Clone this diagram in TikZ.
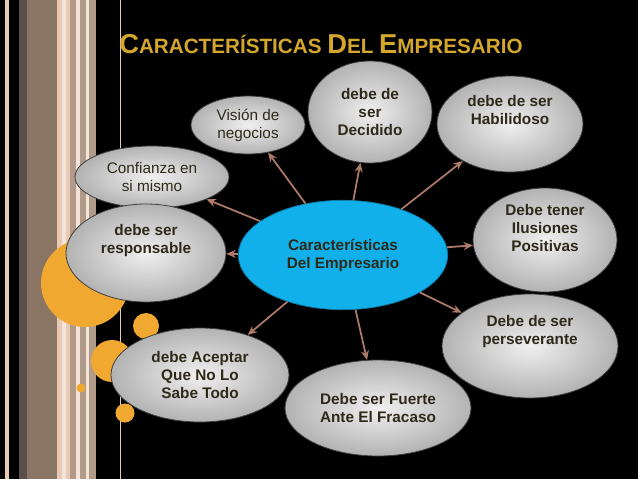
\documentclass[tikz,border=0pt]{standalone}
\usepackage{fontspec}
\setmainfont{Liberation Sans}
\usetikzlibrary{shapes.geometric,arrows.meta}
\definecolor{gold}{HTML}{D4A72C}
\definecolor{orng}{HTML}{F0A830}
\definecolor{arr}{HTML}{B07A68}
\definecolor{blu}{HTML}{12B0EA}
\definecolor{txt}{HTML}{2E2A1A}
\definecolor{peach}{HTML}{E8C9B4}
\definecolor{dgray}{HTML}{5A4F48}
\definecolor{brn}{HTML}{8A7565}
\definecolor{tan}{HTML}{B09A8A}
\definecolor{lite}{HTML}{F4E4D8}
\begin{document}
\begin{tikzpicture}[x=0.75pt,y=-0.75pt,
 bub/.style 2 args={ellipse,draw=black!75,line width=0.6pt,inner color=white!94!black,outer color=black!30,minimum width={0.75pt*#1},minimum height={0.75pt*#2},inner sep=0pt,align=center,text=txt,font=\fontsize{11.5}{13.5}\selectfont\bfseries},
 conn/.style={draw=arr,line width=1.3pt,-{Stealth[length=7pt,width=6pt]}}]
\useasboundingbox (0,0) rectangle (638,479);
\fill[black] (0,0) rectangle (638,479);
% stripes
\fill[peach] (5,0) rectangle (9,479);
\fill[dgray] (19,0) rectangle (27,479);
\fill[brn] (27,0) rectangle (57,479);
\fill[peach] (57,0) rectangle (62,479);
\fill[lite] (62,0) rectangle (66,479);
\fill[peach] (66,0) rectangle (70,479);
\fill[tan] (70,0) rectangle (76,479);
\fill[lite] (76,0) rectangle (80,479);
\fill[tan] (80,0) rectangle (86,479);
\fill[lite] (86,0) rectangle (89,479);
\fill[tan] (89,0) rectangle (96,479);
\fill[peach] (119.5,0) rectangle (121,479);
% orange circles
\fill[orng] (85,283) circle (44);
\fill[orng] (146,326) circle (13);
\fill[orng] (112,361) circle (21);
\fill[orng] (81,388) circle (4.5);
\fill[orng] (125,413) circle (9.5);
% title
\node[anchor=base west,text=gold,font=\bfseries,inner sep=0] (title) at (119,53)
 {\fontsize{20.5}{22}\selectfont C\fontsize{15.5}{17}\selectfont ARACTERÍSTICAS \fontsize{20.5}{22}\selectfont D\fontsize{15.5}{17}\selectfont EL \fontsize{20.5}{22}\selectfont E\fontsize{15.5}{17}\selectfont MPRESARIO};
% bubbles
\node[bub={114}{58},font=\fontsize{11.5}{13.5}\selectfont] (vis) at (248,125) {Visión de\\negocios};
\node[bub={154}{62},font=\fontsize{11.5}{13.5}\selectfont] (conf) at (152,177) {Confianza en\\si mismo};
\node[bub={124}{102}] (dec) at (370,112) {debe de\\ser\\Decidido};
\node[bub={146}{96}] (hab) at (510,124) {debe de ser\\Habilidoso\\[8pt]};
\node[bub={144}{104}] (ilu) at (545,240) {Debe tener\\Ilusiones\\Positivas\\[4pt]};
\node[bub={176}{104}] (per) at (530,346) {Debe de ser\\perseverante\\[10pt]};
\node[bub={186}{96}] (fue) at (378,408) {Debe ser Fuerte\\Ante El Fracaso};
\node[bub={178}{94}] (ace) at (200,375) {debe Aceptar\\Que No Lo\\Sabe Todo};
\node[bub={160}{98}] (res) at (146,253) {debe ser\\responsable\\[8pt]};
\node[ellipse,draw=blu!70!black,line width=0.6pt,fill=blu,minimum width=157pt,minimum height=82pt,align=center,text=txt,font=\fontsize{11.5}{13.5}\selectfont\bfseries] (c) at (343,255) {Características\\Del Empresario};
% connectors
\draw[conn] (c) -- (vis);
\draw[conn] (c) -- (conf);
\draw[conn] (c) -- (dec);
\draw[conn] (c) -- (hab);
\draw[conn] (c) -- (ilu);
\draw[conn] (c) -- (per);
\draw[conn] (c) -- (fue);
\draw[conn] (c) -- (ace);
\draw[conn] (c) -- (res);
\end{tikzpicture}
\end{document}
